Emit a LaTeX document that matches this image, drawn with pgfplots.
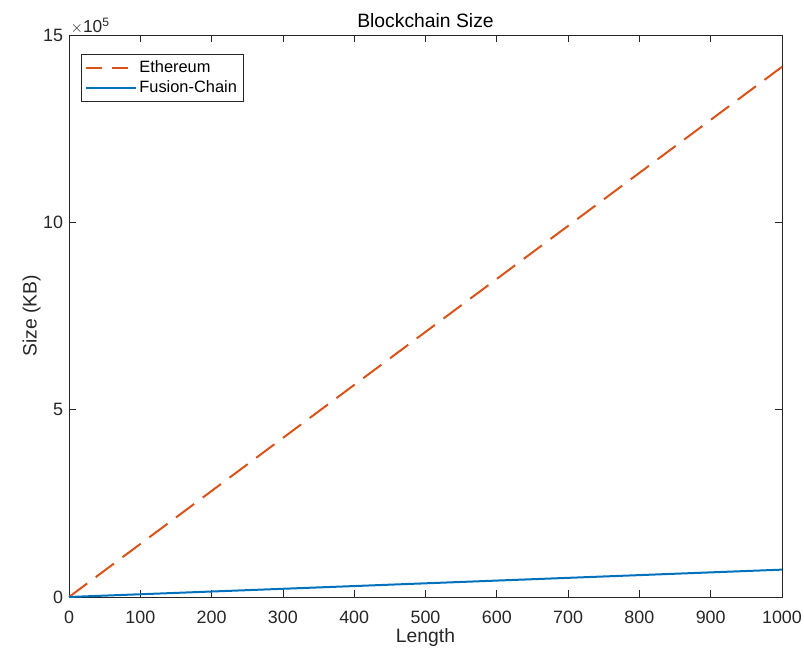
\documentclass[border=0pt]{standalone}
\usepackage{pgfplots}
\pgfplotsset{compat=1.18}
\usepackage{fontspec}
\setmainfont{Liberation Sans}
\definecolor{mborange}{rgb}{0.85,0.325,0.098}
\definecolor{mbblue}{rgb}{0,0.447,0.741}
\definecolor{maxis}{rgb}{0.15,0.15,0.15}
\begin{document}
\begin{tikzpicture}
\useasboundingbox (-51.75pt,-41.25pt) rectangle (551.25pt,447.75pt);
\begin{axis}[
  scale only axis,
  width=534.75pt, height=421.5pt,
  xmin=0, xmax=1000, ymin=0, ymax=1500000,
  xtick={0,100,...,1000},
  xticklabels={0,100,200,300,400,500,600,700,800,900,1000},
  ytick={0,500000,1000000,1500000},
  yticklabels={0,5,10,15},
  scaled y ticks=false,
  tick align=inside,
  major tick length=5pt,
  axis line style={maxis, line width=0.6pt},
  tick style={maxis, line width=0.6pt},
  ticklabel style={font=\fontsize{13.4}{16}\selectfont, text=maxis},
  xticklabel style={yshift=-7pt},
  yticklabel style={xshift=-1pt},
  xlabel={Length}, ylabel={Size (KB)},
  label style={font=\fontsize{14.5}{17}\selectfont, text=maxis},
  xlabel style={yshift=3pt},
  ylabel style={yshift=-5pt},
  title={Blockchain Size},
  title style={font=\fontsize{14.5}{17}\selectfont, yshift=-4pt},
  legend style={at={(rel axis cs:0.017,0.966)}, anchor=north west, draw=maxis, font=\fontsize{12.3}{15}\selectfont, row sep=0.5pt, inner sep=3pt},
  legend cell align=left,
  legend image code/.code={\draw[#1] (0pt,0pt) -- (37pt,0pt);},
  clip=false,
]
\addplot[color=mborange, line width=1.5pt, dash pattern=on 17pt off 8pt, forget plot] coordinates {(0,0) (1000,1415000)};
\addplot[color=mbblue, line width=1.5pt, forget plot] coordinates {(0,0) (1000,73000)};
\addlegendimage{color=mborange, line width=1.5pt, dash pattern=on 12pt off 7.5pt on 12pt off 7.5pt}
\addlegendentry{Ethereum}
\addlegendimage{color=mbblue, line width=1.5pt}
\addlegendentry{Fusion-Chain}
\node[anchor=south west, inner sep=1pt, xshift=0pt, font=\fontsize{13}{15}\selectfont, text=maxis] at (rel axis cs:0,1) {$\times$10\textsuperscript{5}};
\end{axis}
\end{tikzpicture}
\end{document}
